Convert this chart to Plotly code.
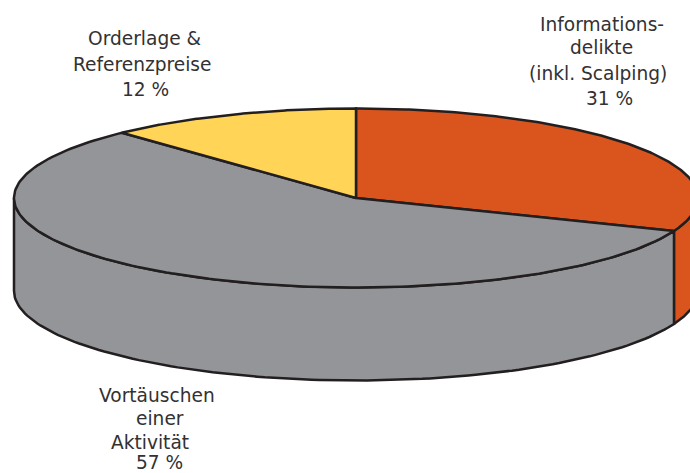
import numpy as np
import plotly.graph_objects as go

categories = ["Informationsdelikte (inkl. Scalping)", "Vortäuschen einer Aktivität", "Orderlage & Referenzpreise"]
shares = [31, 57, 12]
colors = ["#DA551E", "#939598", "#FFD457"]
label_lines = ["Informations-", "delikte", "(inkl. Scalping)", "31 %",
               "Orderlage &", "Referenzpreise", "12 %",
               "Vortäuschen", "einer", "Aktivität", "57 %"]
label_x = [601.5, 601, 597.5, 609, 144, 142.5, 145, 157, 160, 150, 159.5]
label_y = [24, 47, 73, 98, 38, 64, 89, 395, 418, 442, 462.5]

CX, CY, RX, RY, DEPTH = 356, 198, 342, 89.5, 93
INK = "#231F20"


def point(pct, drop=0):
    t = np.asarray(pct) / 100 * 2 * np.pi
    return CX + RX * np.sin(t), CY - RY * np.cos(t) + drop


fig = go.Figure()


def poly(xs, ys, color):
    fig.add_trace(go.Scatter(x=xs, y=ys, mode="lines", fill="toself", fillcolor=color,
                             line=dict(color=INK, width=2.5), hoverinfo="skip", showlegend=False))


edges = np.concatenate([[0], np.cumsum(shares)])

# side wall: only the front half (25%..75%) of the rim is visible
for i, c in enumerate(colors):
    a, b = max(edges[i], 25), min(edges[i + 1], 75)
    if a < b:
        p = np.linspace(a, b, 120)
        x1, y1 = point(p)
        x2, y2 = point(p[::-1], DEPTH)
        poly(np.r_[x1, x2, x1[0]], np.r_[y1, y2, y1[0]], c)

# top face wedges
for i, c in enumerate(colors):
    p = np.linspace(edges[i], edges[i + 1], 200)
    x, y = point(p)
    poly(np.r_[CX, x, CX], np.r_[CY, y, CY], c)

for txt, x, y in zip(label_lines, label_x, label_y):
    fig.add_annotation(x=x, y=y, text=txt, showarrow=False, xanchor="center", yanchor="middle",
                       font=dict(family="DejaVu Sans", size=18.6, color="#333132"))

fig.update_layout(width=690, height=473, margin=dict(l=0, r=0, t=0, b=0), autosize=False,
                  paper_bgcolor="white", plot_bgcolor="white", showlegend=False,
                  xaxis=dict(range=[0, 690], visible=False, fixedrange=True),
                  yaxis=dict(range=[473, 0], visible=False, fixedrange=True))
fig.write_html("out.html", config=dict(displayModeBar=False),
               post_script="document.body.style.margin='0';document.body.style.overflow='hidden';")
